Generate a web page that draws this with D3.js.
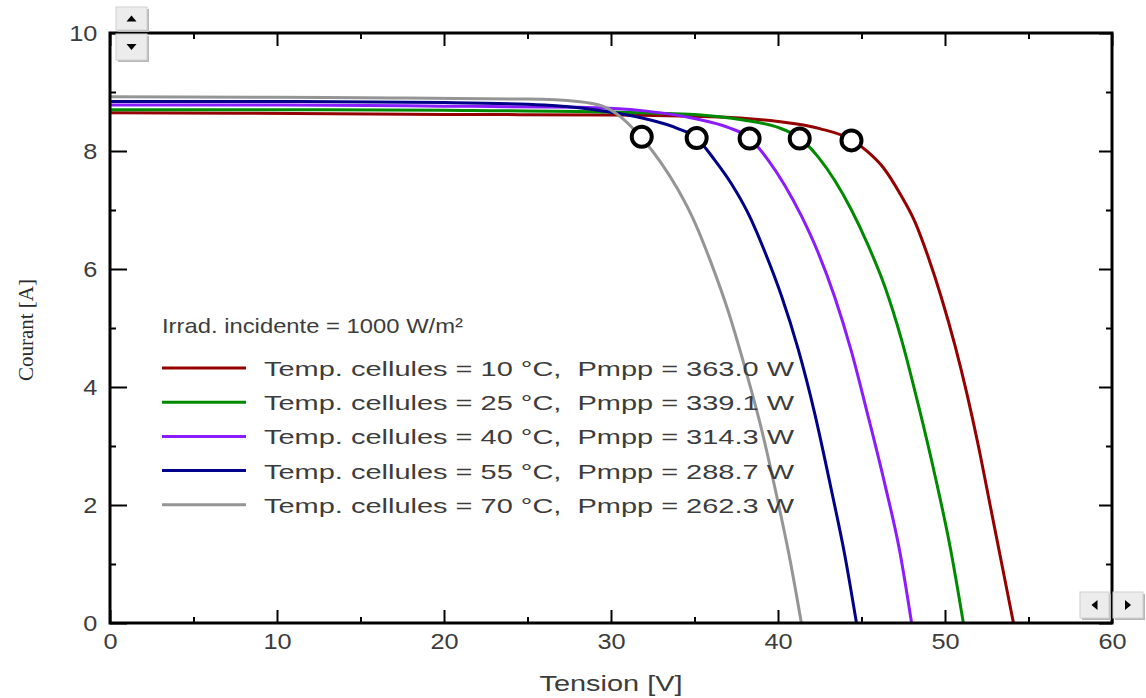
<!DOCTYPE html>
<html>
<head>
<meta charset="utf-8">
<script src="https://cdn.jsdelivr.net/npm/d3@7"></script>
<style>
  body { margin: 0; background: #fff; }
  svg { display: block; }
</style>
</head>
<body>
<div id="chart"></div>
<script>
// Courbes I-V a 1000 W/m2 pour differentes temperatures de cellules
var temps = [10, 25, 40, 55, 70];
var pmpp = ["363.0", "339.1", "314.3", "288.7", "262.3"];
var colours = ["#950000", "#008a00", "#8a1cff", "#000088", "#959595"];

// [tension V, courant A]
var curve10 = [[0, 8.65], [7.5, 8.64], [20, 8.62], [30, 8.61], [36, 8.58], [40, 8.5], [42.5, 8.38], [44.4, 8.19],
  [45.4, 7.98], [46.3, 7.72], [47.3, 7.28], [48.2, 6.8], [49.0, 6.2], [49.8, 5.5], [50.6, 4.7], [51.3, 3.9],
  [52.0, 3.0], [52.7, 2.0], [53.4, 1.0], [54.1, 0]];
var curve25 = [[0, 8.7], [10, 8.7], [20, 8.69], [30, 8.66], [35, 8.62], [38, 8.52], [40, 8.4], [41.3, 8.22],
  [42.4, 7.9], [43.4, 7.5], [44.4, 7.0], [45.4, 6.4], [46.4, 5.7], [47.4, 4.8], [48.4, 3.7], [49.4, 2.5],
  [50.3, 1.3], [51.1, 0]];
var curve40 = [[0, 8.78], [10, 8.78], [20, 8.76], [28, 8.74], [32, 8.68], [35, 8.55], [37, 8.4], [38.3, 8.22],
  [39.4, 7.85], [40.4, 7.42], [41.4, 6.9], [42.4, 6.28], [43.4, 5.52], [44.4, 4.6], [45.4, 3.5], [46.4, 2.35],
  [47.3, 1.2], [48.0, 0]];
var curve55 = [[0, 8.84], [10, 8.84], [20, 8.82], [26, 8.78], [29, 8.7], [32, 8.55], [34, 8.38], [35.13, 8.22],
  [36.2, 7.85], [37.2, 7.45], [38.2, 6.95], [39.2, 6.3], [40.2, 5.55], [41.2, 4.65], [42.2, 3.55], [43.2, 2.25],
  [44.0, 1.15], [44.7, 0]];
var curve70 = [[0, 8.92], [10, 8.91], [17, 8.9], [25, 8.88], [28, 8.84], [29.5, 8.76], [30.7, 8.55], [31.84, 8.22],
  [33.0, 7.8], [34.0, 7.35], [35.0, 6.8], [36.0, 6.1], [37.0, 5.3], [38.0, 4.35], [39.0, 3.3], [40.0, 2.05],
  [40.7, 1.1], [41.4, 0]];
var curves = [curve10, curve25, curve40, curve55, curve70];

// points de puissance maximale
var mppV = [44.4, 41.3, 38.3, 35.13, 31.84];
var mppI = [8.18, 8.21, 8.21, 8.22, 8.24];

var xTicks = [0, 10, 20, 30, 40, 50, 60];
var xMinor = [5, 15, 25, 35, 45, 55];
var yTicks = [0, 2, 4, 6, 8, 10];
var yMinor = [1, 3, 5, 7, 9];

var width = 1146, height = 698;
var svg = d3.select("#chart").append("svg")
  .attr("width", width)
  .attr("height", height);

var x = d3.scaleLinear().domain([0, 60]).range([110, 1112]);
var y = d3.scaleLinear().domain([0, 10]).range([623, 33]);

var textCol = "#3c3c3c";
var font = "'Liberation Sans', Arial, sans-serif";

// axes (ticks inside)
function styleAxis(g) {
  g.select(".domain").remove();
  g.selectAll(".tick line").attr("stroke", "#000").attr("stroke-width", 2);
  g.selectAll("text").attr("fill", textCol).attr("font-family", font).attr("font-size", 22);
}

svg.append("g").attr("transform", "translate(0," + y(0) + ")")
  .call(d3.axisBottom(x).tickValues(xTicks).tickSizeInner(-13).tickSizeOuter(0).tickPadding(10).tickFormat(d3.format("d")))
  .call(styleAxis)
  .selectAll("text").attr("transform", "scale(1.15,1)");
svg.append("g").attr("transform", "translate(0," + y(0) + ")")
  .call(d3.axisBottom(x).tickValues(xMinor).tickSize(-6).tickFormat(""))
  .call(styleAxis);
svg.append("g").attr("transform", "translate(0," + y(10) + ")")
  .call(d3.axisTop(x).tickValues(xTicks).tickSize(-13).tickFormat(""))
  .call(styleAxis);
svg.append("g").attr("transform", "translate(0," + y(10) + ")")
  .call(d3.axisTop(x).tickValues(xMinor).tickSize(-6).tickFormat(""))
  .call(styleAxis);

svg.append("g").attr("transform", "translate(" + x(0) + ",0)")
  .call(d3.axisLeft(y).tickValues(yTicks).tickSizeInner(-17).tickSizeOuter(0).tickPadding(12).tickFormat(d3.format("d")))
  .call(styleAxis)
  .selectAll("text").attr("transform", "scale(1.15,1)").attr("x", -11);
svg.append("g").attr("transform", "translate(" + x(0) + ",0)")
  .call(d3.axisLeft(y).tickValues(yMinor).tickSize(-6).tickFormat(""))
  .call(styleAxis);
svg.append("g").attr("transform", "translate(" + x(60) + ",0)")
  .call(d3.axisRight(y).tickValues(yTicks).tickSize(-13).tickFormat(""))
  .call(styleAxis);
svg.append("g").attr("transform", "translate(" + x(60) + ",0)")
  .call(d3.axisRight(y).tickValues(yMinor).tickSize(-6).tickFormat(""))
  .call(styleAxis);

// axis titles
svg.append("text")
  .attr("x", 611).attr("y", 691)
  .attr("text-anchor", "middle")
  .attr("font-family", font).attr("font-size", 22)
  .attr("fill", textCol)
  .attr("textLength", 143).attr("lengthAdjust", "spacingAndGlyphs")
  .text("Tension [V]");
svg.append("text")
  .attr("transform", "translate(33,330) rotate(-90)")
  .attr("text-anchor", "middle")
  .attr("font-family", "'Liberation Serif', 'Times New Roman', serif").attr("font-size", 21)
  .attr("fill", "#2a2a2a")
  .text("Courant [A]");

// curves
var line = d3.line()
  .x(function(d) { return x(d[0]); })
  .y(function(d) { return y(d[1]); })
  .curve(d3.curveMonotoneX);

svg.append("g").selectAll("path")
  .data(curves)
  .enter()
  .append("path")
    .attr("fill", "none")
    .attr("stroke", function(d, i) { return colours[i]; })
    .attr("stroke-width", 3)
    .attr("d", line);

// mpp markers
svg.append("g").selectAll("circle")
  .data(mppV)
  .enter()
  .append("circle")
    .attr("cx", function(d) { return x(d); })
    .attr("cy", function(d, i) { return y(mppI[i]); })
    .attr("r", 10)
    .attr("fill", "#fff")
    .attr("stroke", "#000")
    .attr("stroke-width", 4);

// frame
svg.append("rect")
  .attr("x", x(0)).attr("y", y(10))
  .attr("width", x(60) - x(0)).attr("height", y(0) - y(10))
  .attr("fill", "none").attr("stroke", "#000").attr("stroke-width", 3);

// legend
var legend = svg.append("g");
legend.append("text")
  .attr("x", 162).attr("y", 333)
  .attr("font-family", font).attr("font-size", 21)
  .attr("fill", textCol)
  .attr("textLength", 301).attr("lengthAdjust", "spacingAndGlyphs")
  .text("Irrad. incidente = 1000 W/m²");

var rows = legend.selectAll("g.row")
  .data(temps)
  .enter()
  .append("g")
    .attr("class", "row")
    .attr("transform", function(d, i) { return "translate(0," + (368 + i * 34.2) + ")"; });
rows.append("line")
  .attr("x1", 162).attr("x2", 246)
  .attr("stroke", function(d, i) { return colours[i]; })
  .attr("stroke-width", 3);
rows.append("text")
  .attr("x", 264).attr("y", 8)
  .attr("font-family", font).attr("font-size", 21)
  .attr("fill", textCol)
  .attr("textLength", 530).attr("lengthAdjust", "spacingAndGlyphs")
  .attr("xml:space", "preserve")
  .text(function(d, i) { return "Temp. cellules = " + d + " \u00b0C,  Pmpp = " + pmpp[i] + " W"; });

// little scroll buttons of the original window
function button(bx, by, w, h, dir) {
  var b = svg.append("g");
  b.append("rect").attr("x", bx + 2).attr("y", by + 2).attr("width", w).attr("height", h).attr("fill", "#b8b8b8");
  b.append("rect").attr("x", bx).attr("y", by).attr("width", w).attr("height", h)
    .attr("fill", "#ececec").attr("stroke", "#d0d0d0");
  var cx = bx + w / 2, cy = by + h / 2, s = 5;
  var pts;
  if (dir === "up") pts = [[cx - s, cy + 3], [cx + s, cy + 3], [cx, cy - 3]];
  if (dir === "down") pts = [[cx - s, cy - 3], [cx + s, cy - 3], [cx, cy + 3]];
  if (dir === "left") pts = [[cx + 3, cy - s], [cx + 3, cy + s], [cx - 3, cy]];
  if (dir === "right") pts = [[cx - 3, cy - s], [cx - 3, cy + s], [cx + 3, cy]];
  b.append("polygon").attr("points", pts.map(function(p) { return p.join(","); }).join(" ")).attr("fill", "#000");
}
button(116, 7, 31, 23, "up");
button(116, 34, 31, 26, "down");
button(1080, 592, 29, 26, "left");
button(1113, 592, 30, 26, "right");
</script>
</body>
</html>
